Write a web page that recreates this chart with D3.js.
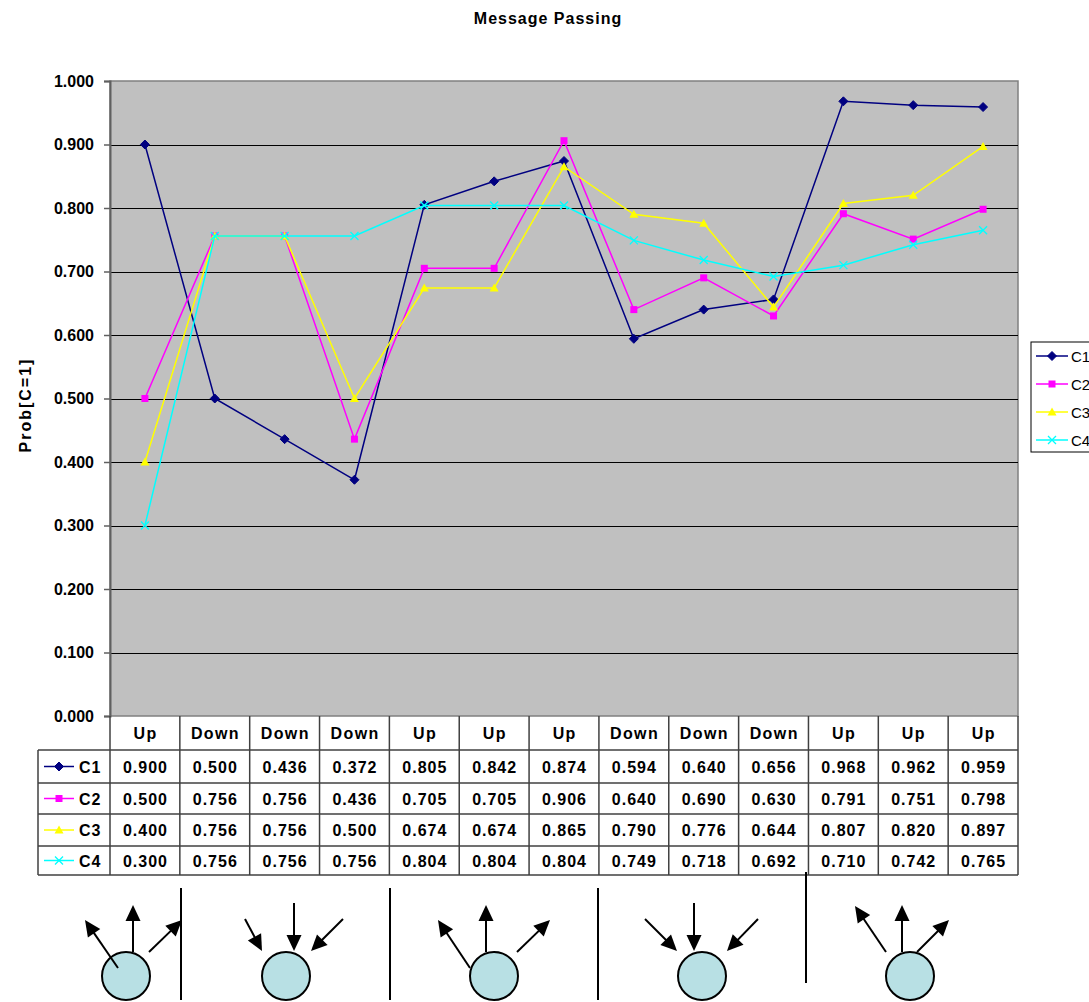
<!DOCTYPE html>
<html><head><meta charset="utf-8">
<script src="https://cdn.jsdelivr.net/npm/d3@7"></script>
<style>body{margin:0;background:#fff;} svg{display:block;font-family:"Liberation Sans",Arial,sans-serif;}</style>
</head><body>
<svg id="c" width="1089" height="1002"></svg>
<script>
const categories = ["Up","Down","Down","Down","Up","Up","Up","Down","Down","Down","Up","Up","Up"];
const seriesNames = ["C1","C2","C3","C4"];
const c1 = [0.900,0.500,0.436,0.372,0.805,0.842,0.874,0.594,0.640,0.656,0.968,0.962,0.959];
const c2 = [0.500,0.756,0.756,0.436,0.705,0.705,0.906,0.640,0.690,0.630,0.791,0.751,0.798];
const c3 = [0.400,0.756,0.756,0.500,0.674,0.674,0.865,0.790,0.776,0.644,0.807,0.820,0.897];
const c4 = [0.300,0.756,0.756,0.756,0.804,0.804,0.804,0.749,0.718,0.692,0.710,0.742,0.765];
const yTicks = [0,0.1,0.2,0.3,0.4,0.5,0.6,0.7,0.8,0.9,1.0];
const diagramTypes = ["Up","Down","Up","Down","Up"];

const colors = ["#000080","#FF00FF","#FFFF00","#00FFFF"];
const symbols = ["diamond","square","triangle","x"];
const series = [c1,c2,c3,c4];

const svg = d3.select("#c");
const L = 110, R = 1018, T = 81, B = 716;
const x = d3.scaleBand().domain(d3.range(categories.length)).range([L,R]).paddingInner(0).paddingOuter(0);
const y = d3.scaleLinear().domain([0,1]).range([B,T]);

// title
svg.append("text").attr("x",548).attr("y",24).attr("text-anchor","middle")
  .attr("font-weight","bold").attr("font-size",16).attr("letter-spacing",1).text("Message Passing");
// y label
svg.append("text").attr("transform","translate(31,405) rotate(-90)").attr("text-anchor","middle")
  .attr("font-weight","bold").attr("font-size",16).attr("letter-spacing",2).text("Prob[C=1]");

// plot background
svg.append("rect").attr("x",L).attr("y",T).attr("width",R-L).attr("height",B-T)
  .attr("fill","#C0C0C0").attr("stroke","#808080").attr("stroke-width",1.5);

// gridlines
svg.append("g").selectAll("line").data(yTicks.filter(d=>d>0&&d<1)).join("line")
  .attr("x1",L).attr("x2",R).attr("y1",d=>Math.round(y(d))+0.5).attr("y2",d=>Math.round(y(d))+0.5)
  .attr("stroke","#000").attr("stroke-width",1);

// y axis
const yAxis = d3.axisLeft(y).tickValues(yTicks).tickFormat(d3.format(".3f")).tickSize(6);
const ga = svg.append("g").attr("transform",`translate(${L},0)`).call(yAxis);
ga.select(".domain").attr("stroke","#606060").attr("stroke-width",2);
ga.selectAll(".tick line").attr("stroke","#606060").attr("stroke-width",1.5);
ga.selectAll(".tick text").attr("font-size",16).attr("font-weight","bold").attr("fill","#000")
  .attr("font-family","'Liberation Sans',Arial,sans-serif").attr("x",-16);

// markers
function marker(g, type, color, cx, cy){
  if(type==="diamond"){
    g.append("path").attr("d",`M${cx},${cy-4.5}L${cx+4.5},${cy}L${cx},${cy+4.5}L${cx-4.5},${cy}Z`).attr("fill",color).attr("stroke",color);
  } else if(type==="square"){
    g.append("rect").attr("x",cx-3.5).attr("y",cy-3.5).attr("width",7).attr("height",7).attr("fill",color);
  } else if(type==="triangle"){
    g.append("path").attr("d",`M${cx},${cy-4.5}L${cx+4.5},${cy+3.5}L${cx-4.5},${cy+3.5}Z`).attr("fill",color);
  } else {
    g.append("path").attr("d",`M${cx-4},${cy-4}L${cx+4},${cy+4}M${cx-4},${cy+4}L${cx+4},${cy-4}`).attr("stroke",color).attr("stroke-width",1.3);
  }
}

const cx = i => x(i)+x.bandwidth()/2;
const line = d3.line().x((d,i)=>cx(i)).y(d=>y(d));
series.forEach((s,k)=>{
  const g = svg.append("g");
  g.append("path").datum(s).attr("d",line).attr("fill","none").attr("stroke",colors[k]).attr("stroke-width",1.5);
  s.forEach((v,i)=>marker(g,symbols[k],colors[k],cx(i),y(v)));
});

// data table
const rowH = [716,750,783,814,846,875];
const tbl = svg.append("g");
const tLeft = 38;
const tc = "#404040";
categories.forEach((c,i)=>{
  tbl.append("text").attr("x",cx(i)+0.7).attr("y",(rowH[0]+rowH[1])/2+6).attr("text-anchor","middle")
    .attr("font-size",16).attr("font-weight","bold").attr("letter-spacing",1.4).text(c);
});
series.forEach((s,k)=>{
  const yc = (rowH[k+1]+rowH[k+2])/2+6;
  s.forEach((v,i)=>{
    tbl.append("text").attr("x",cx(i)+0.5).attr("y",yc).attr("text-anchor","middle")
      .attr("font-size",16).attr("font-weight","bold").attr("letter-spacing",1).text(d3.format(".3f")(v));
  });
  const ly = (rowH[k+1]+rowH[k+2])/2;
  tbl.append("line").attr("x1",44).attr("x2",74).attr("y1",ly).attr("y2",ly).attr("stroke",colors[k]).attr("stroke-width",1.5);
  marker(tbl,symbols[k],colors[k],59,ly);
  tbl.append("text").attr("x",79).attr("y",yc).attr("font-size",16).attr("font-weight","bold").attr("letter-spacing",1).text(seriesNames[k]);
});
tbl.append("g").selectAll("line").data(d3.range(categories.length+1)).join("line")
  .attr("x1",i=>i<categories.length?x(i):R).attr("x2",i=>i<categories.length?x(i):R)
  .attr("y1",rowH[0]).attr("y2",rowH[5]).attr("stroke",tc).attr("stroke-width",1.5);
rowH.slice(1).forEach(h=>{
  tbl.append("line").attr("x1",tLeft).attr("x2",R).attr("y1",h).attr("y2",h).attr("stroke",tc).attr("stroke-width",1.5);
});
tbl.append("line").attr("x1",tLeft).attr("x2",tLeft).attr("y1",rowH[1]).attr("y2",rowH[5]).attr("stroke",tc).attr("stroke-width",1.5);

// legend
const lg = svg.append("g");
lg.append("rect").attr("x",1031).attr("y",342).attr("width",80).attr("height",110).attr("fill","#fff").attr("stroke","#000").attr("stroke-width",1);
seriesNames.forEach((n,k)=>{
  const ly = 356 + k*28;
  lg.append("line").attr("x1",1036).attr("x2",1068).attr("y1",ly).attr("y2",ly).attr("stroke",colors[k]).attr("stroke-width",1.5);
  marker(lg,symbols[k],colors[k],1052,ly);
  lg.append("text").attr("x",1071).attr("y",ly+5.5).attr("font-size",15).text(n);
});

// bottom diagrams (pictorial: node with messages going up / coming down)
const dg = svg.append("g");
const sepLines = [[181,888,1000],[390,888,1000],[598,888,1000],[806,872,983]];
sepLines.forEach(s=>dg.append("line").attr("x1",s[0]).attr("x2",s[0]).attr("y1",s[1]).attr("y2",s[2]).attr("stroke","#000").attr("stroke-width",2));
const centers = [126,286,494,702,910];
const cy0 = 976, rad = 24;
// arrow offsets relative to the node centre: [x1,y1,x2(tip),y2(tip)]
const arrowSets = [
  [[-8,-8,-41,-56],[7,-24,7,-71],[23,-24,56,-56]],
  [[-41,-57,-24,-25],[8,-73,8,-25],[57,-57,25,-25]],
  [[-24,-8,-56,-56],[-8,-24,-8,-71],[23,-24,56,-56]],
  [[-57,-57,-25,-25],[-8,-73,-8,-25],[56,-57,25,-25]],
  [[-24,-24,-55,-70],[-8,-24,-8,-71],[7,-24,39,-56]]
];
diagramTypes.forEach((t,j)=>{
  const c = centers[j];
  const drawArrows = () => arrowSets[j].forEach(o=>{
    const a=[c+o[0],cy0+o[1],c+o[2],cy0+o[3]];
    const dx=a[2]-a[0], dy=a[3]-a[1], len=Math.hypot(dx,dy);
    const ux=dx/len, uy=dy/len;
    dg.append("line").attr("x1",a[0]).attr("y1",a[1]).attr("x2",a[2]-ux*12).attr("y2",a[3]-uy*12).attr("stroke","#000").attr("stroke-width",2);
    const bx=a[2]-ux*16, by=a[3]-uy*16, px=-uy*7.5, py=ux*7.5;
    dg.append("path").attr("d",`M${a[2]},${a[3]}L${bx+px},${by+py}L${bx-px},${by-py}Z`).attr("fill","#000");
  });
  const circ = () => dg.append("circle").attr("cx",c).attr("cy",cy0).attr("r",rad).attr("fill","#B8E0E4").attr("stroke","#000").attr("stroke-width",2);
  if(j===0){ circ(); drawArrows(); } else { drawArrows(); circ(); }
});
</script>
</body></html>
